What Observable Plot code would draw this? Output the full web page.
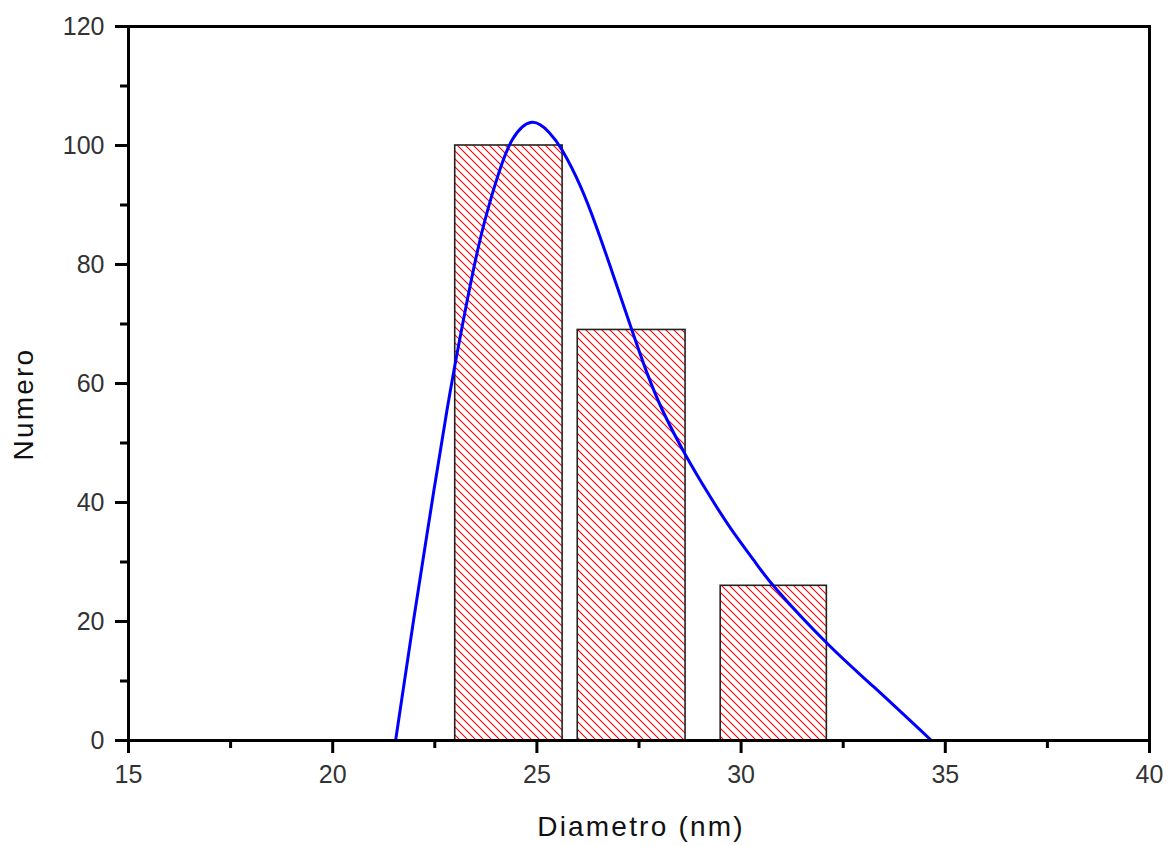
<!DOCTYPE html>
<html>
<head>
<meta charset="utf-8">
<script src="https://cdn.jsdelivr.net/npm/d3@7"></script>
<script src="https://cdn.jsdelivr.net/npm/@observablehq/plot@0.6"></script>
<style>
  html, body { margin: 0; padding: 0; background: #fff; }
  #chart svg { display: block; font-family: "Liberation Sans", Arial, sans-serif; }
</style>
</head>
<body>
<div id="chart"></div>
<script>
// Histogram bins (nm) and counts
const binStart = [23.0, 26.0, 29.5];
const binEnd   = [25.63, 28.64, 32.1];
const counts   = [100, 69, 26];

// Fitted distribution curve
const curveX = [21.54, 21.98, 22.39, 22.80, 23.21, 23.62, 24.03, 24.40, 24.88, 25.30, 25.62, 26.07, 26.48, 26.88, 27.33, 27.70, 28.11, 28.64, 29.17, 29.74, 30.31, 30.88, 32.11, 33.25, 34.66];
const curveY = [0, 20.2, 38.2, 55.6, 71.0, 84.5, 94.6, 101.0, 103.9, 102.2, 99.2, 93.1, 85.9, 78.0, 68.9, 61.7, 55.0, 48.0, 41.8, 35.7, 30.3, 25.3, 16.3, 9.0, 0];

// Tick values
const xMajor = [15, 20, 25, 30, 35, 40];
const xMinor = [17.5, 22.5, 27.5, 32.5, 37.5];
const yMajor = [0, 20, 40, 60, 80, 100, 120];
const yMinor = [10, 30, 50, 70, 90, 110];

const bars = binStart.map((s, i) => ({x1: s, x2: binEnd[i], y: counts[i]}));
const curve = curveX.map((x, i) => ({x, y: curveY[i]}));

const plot = Plot.plot({
  width: 1173,
  height: 846,
  marginLeft: 128,
  marginRight: 24,
  marginTop: 26,
  marginBottom: 106,
  style: {fontFamily: "'Liberation Sans', Arial, sans-serif", background: "#fff"},
  x: {domain: [15, 40]},
  y: {domain: [0, 120]},
  marks: [
    Plot.rect(bars, {x1: "x1", x2: "x2", y1: 0, y2: "y", fill: "url(#hatch)", stroke: "#222", strokeWidth: 1.6}),
    Plot.line(curve, {x: "x", y: "y", stroke: "#0000ff", strokeWidth: 3, curve: "natural"}),
    Plot.frame({stroke: "#000", strokeWidth: 3}),
    Plot.axisX(xMajor, {tickSize: 13, tickPadding: 12, strokeWidth: 3, fontSize: 25, fill: "#333", label: null, tickFormat: d => String(d)}),
    Plot.axisX(xMinor, {tickSize: 8, strokeWidth: 3, label: null, tickFormat: () => ""}),
    Plot.axisY(yMajor, {tickSize: 13, tickPadding: 11, strokeWidth: 3, fontSize: 25, fill: "#333", label: null, tickFormat: d => String(d)}),
    Plot.axisY(yMinor, {tickSize: 8, strokeWidth: 3, label: null, tickFormat: () => ""})
  ]
});

const svg = d3.select(plot);
svg.insert("defs", ":first-child").html(
  '<pattern id="hatch" patternUnits="userSpaceOnUse" width="8" height="8">' +
  '<rect width="8" height="8" fill="#fff"/>' +
  '<path d="M-2,-2 L10,10 M-2,6 L2,10 M6,-2 L10,2" stroke="#ff0000" stroke-width="1.1"/>' +
  '</pattern>'
);
svg.append("text")
  .attr("x", 641).attr("y", 836)
  .attr("text-anchor", "middle")
  .attr("font-size", 28)
  .attr("letter-spacing", 2.2)
  .attr("fill", "#111")
  .text("Diametro (nm)");
svg.append("text")
  .attr("transform", "translate(33,404) rotate(-90)")
  .attr("text-anchor", "middle")
  .attr("font-size", 28)
  .attr("letter-spacing", 2.2)
  .attr("fill", "#111")
  .text("Numero");

document.getElementById("chart").appendChild(plot);
</script>
</body>
</html>
